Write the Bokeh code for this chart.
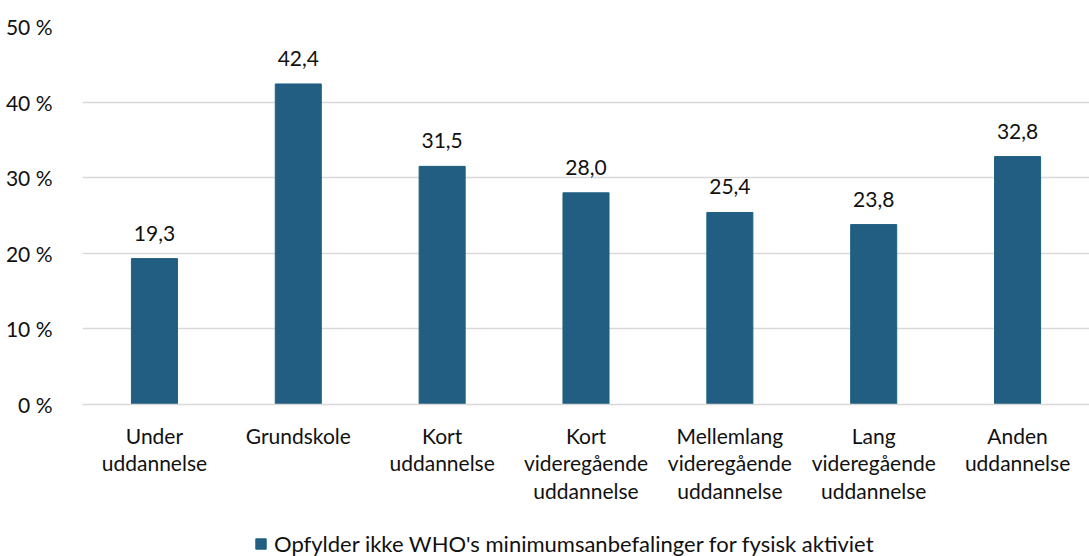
from bokeh.plotting import figure
from bokeh.models import ColumnDataSource, FactorRange, Range1d, Legend, LegendItem
from bokeh.layouts import column
from bokeh.core.properties import value
from bokeh.embed import file_html
from bokeh.resources import INLINE

categories = ["Under\nuddannelse", "Grundskole", "Kort\nuddannelse",
              "Kort\nvideregående\nuddannelse", "Mellemlang\nvideregående\nuddannelse",
              "Lang\nvideregående\nuddannelse", "Anden\nuddannelse"]
values = [19.3, 42.4, 31.5, 28.0, 25.4, 23.8, 32.8]
y_ticks = [0, 10, 20, 30, 40, 50]
y_tick_labels = ["0 %", "10 %", "20 %", "30 %", "40 %", "50 %"]
series_name = "Opfylder ikke WHO's minimumsanbefalinger for fysisk aktiviet"

FONT = "Lato"
BAR = "#215E82"
TXT = "#111111"
FS = "21px"

labels = [f"{v:.1f}".replace(".", ",") for v in values]
src = ColumnDataSource(dict(x=categories, top=values, lab=labels))

p = figure(frame_width=1007, frame_height=378, output_backend="svg", toolbar_location=None,
           x_range=FactorRange(*categories, range_padding=0), y_range=Range1d(0, 50),
           min_border_left=82, min_border_right=0, min_border_top=26, min_border_bottom=0)
p.outline_line_color = None

r = p.vbar(x="x", top="top", width=0.32, source=src, fill_color=BAR, line_color=BAR)
p.text(x="x", y="top", text="lab", source=src, text_align="center", text_baseline="bottom",
       y_offset=-18, text_font=value(FONT), text_font_size=FS, text_color=TXT)

p.xgrid.grid_line_color = None
p.ygrid.grid_line_color = "#D9D9D9"
p.ygrid.grid_line_width = 1.5
p.ygrid.ticker = y_ticks

p.yaxis.ticker = y_ticks
p.yaxis.major_label_overrides = {t: l for t, l in zip(y_ticks, y_tick_labels)}
p.yaxis.axis_line_color = None
p.yaxis.major_tick_line_color = None
p.yaxis.minor_tick_line_color = None
p.yaxis.major_label_standoff = 24
p.yaxis.major_label_text_font = FONT
p.yaxis.major_label_text_font_size = FS
p.yaxis.major_label_text_color = TXT

p.xaxis.axis_line_color = "#D9D9D9"
p.xaxis.axis_line_width = 1.5
p.xaxis.major_tick_line_color = None
p.xaxis.minor_tick_line_color = None
p.xaxis.major_label_standoff = 12
p.xaxis.major_label_text_font = FONT
p.xaxis.major_label_text_font_size = FS
p.xaxis.major_label_text_color = TXT
p.xaxis.major_label_text_line_height = 1.1

# separate strip for the legend
q = figure(width=1089, height=56, output_backend="svg", toolbar_location=None,
           x_range=Range1d(0, 1), y_range=Range1d(0, 1),
           min_border=0, outline_line_color=None)
q.axis.visible = False
q.grid.visible = False
legend_src = ColumnDataSource(dict(x=[5], top=[1]))
dummy = q.vbar(x="x", top="top", width=0.1, source=legend_src, fill_color=BAR, line_color=BAR)
legend = Legend(items=[LegendItem(label=series_name, renderers=[dummy])],
                location=(172, 4), orientation="horizontal",
                label_text_font=FONT, label_text_font_size="22px", label_text_color=TXT,
                glyph_width=13, glyph_height=13, label_standoff=7,
                border_line_color=None, background_fill_alpha=0, padding=0, margin=0)
q.add_layout(legend, "center")

layout = column(p, q, spacing=0)
open("out.html", "w").write(file_html(layout, INLINE))
